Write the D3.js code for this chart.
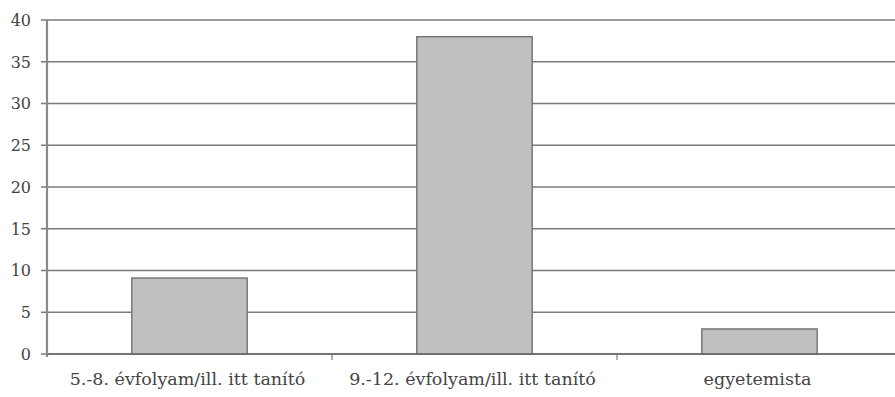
<!DOCTYPE html>
<html>
<head>
<meta charset="utf-8">
<script src="https://cdn.jsdelivr.net/npm/d3@7"></script>
<style>
  html, body { margin: 0; padding: 0; background: #fff; }
  svg { display: block; }
</style>
</head>
<body>
<svg id="chart" width="895" height="397"></svg>
<script>
// Categories and counts
const categories = ["5.-8. évfolyam/ill. itt tanító", "9.-12. évfolyam/ill. itt tanító", "egyetemista"];
const counts = [9.1, 38, 3];
const yTicks = [0, 5, 10, 15, 20, 25, 30, 35, 40];

const FONT = "'DejaVu Serif', serif";
const svg = d3.select("#chart");
const margin = { left: 47, right: -7, top: 20, bottom: 43 };
const W = 895, H = 397;

const x = d3.scaleBand()
  .domain(categories)
  .range([margin.left, W - margin.right])
  .padding(0);

const y = d3.scaleLinear()
  .domain([0, 40])
  .range([H - margin.bottom, margin.top]);

// horizontal gridlines
svg.append("g")
  .selectAll("line")
  .data(yTicks)
  .join("line")
  .attr("x1", margin.left - 6)
  .attr("x2", W)
  .attr("y1", d => y(d))
  .attr("y2", d => y(d))
  .attr("stroke", "#7a7a7a")
  .attr("stroke-width", 1.4);

// y tick labels
svg.append("g")
  .selectAll("text")
  .data(yTicks)
  .join("text")
  .attr("x", 31)
  .attr("y", d => y(d))
  .attr("dy", "0.36em")
  .attr("text-anchor", "end")
  .style("font-family", FONT)
  .style("font-size", "16px")
  .attr("fill", "#444")
  .text(d => d);

// bars
const barFrac = 0.405;
svg.append("g")
  .selectAll("rect")
  .data(counts)
  .join("rect")
  .attr("x", (d, i) => x(categories[i]) + x.bandwidth() * (1 - barFrac) / 2)
  .attr("width", x.bandwidth() * barFrac)
  .attr("y", d => y(d))
  .attr("height", d => y(0) - y(d))
  .attr("fill", "#c0c0c0")
  .attr("stroke", "#6a6a6a")
  .attr("stroke-width", 1.3);

// category separators below the axis
svg.append("g")
  .selectAll("line")
  .data(categories.slice(1))
  .join("line")
  .attr("x1", d => x(d))
  .attr("x2", d => x(d))
  .attr("y1", y(0))
  .attr("y2", y(0) + 6)
  .attr("stroke", "#7a7a7a")
  .attr("stroke-width", 1.2);

// x axis baseline
svg.append("line")
  .attr("x1", margin.left)
  .attr("x2", W)
  .attr("y1", y(0))
  .attr("y2", y(0))
  .attr("stroke", "#6a6a6a")
  .attr("stroke-width", 1.6);

// y axis line
svg.append("line")
  .attr("x1", margin.left)
  .attr("x2", margin.left)
  .attr("y1", y(40))
  .attr("y2", y(0) + 3)
  .attr("stroke", "#8a8a8a")
  .attr("stroke-width", 2.2);

// category labels
svg.append("g")
  .selectAll("text")
  .data(categories)
  .join("text")
  .attr("x", d => x(d) + x.bandwidth() / 2 - 2)
  .attr("y", 385)
  .attr("text-anchor", "middle")
  .style("font-family", FONT)
  .style("font-size", "17.5px")
  .attr("fill", "#444")
  .text(d => d);
</script>
</body>
</html>
